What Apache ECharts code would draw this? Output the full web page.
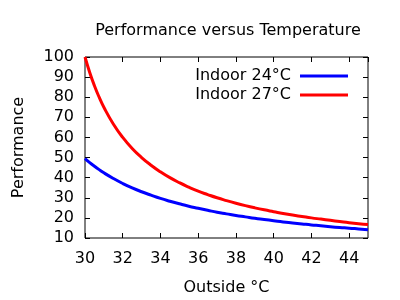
<!DOCTYPE html>
<html><head><meta charset="utf-8">
<script src="https://cdn.jsdelivr.net/npm/echarts@6/dist/echarts.min.js"></script>
<style>html,body{margin:0;padding:0;background:#fff}#c{width:400px;height:300px}</style>
</head><body><div id="c"></div>
<script>
var outsideTemps = [30,30.25,30.5,30.75,31,31.5,32,32.5,33,33.5,34,34.5,35,35.5,36,36.5,37,37.5,38,38.5,39,39.5,40,40.5,41,41.5,42,42.5,43,43.5,44,44.5,45];
var indoor24 = [49.5,47.5,45.7,44.0,42.4,39.6,37.1,34.9,33.0,31.3,29.7,28.3,27.0,25.8,24.8,23.8,22.8,22.0,21.2,20.5,19.8,19.2,18.6,18.0,17.5,17.0,16.5,16.1,15.6,15.2,14.9,14.5,14.1];
var indoor27 = [100,92.3,85.7,80.0,75.0,66.7,60.0,54.5,50.0,46.2,42.9,40.0,37.5,35.3,33.3,31.6,30.0,28.6,27.3,26.1,25.0,24.0,23.1,22.2,21.4,20.7,20.0,19.4,18.8,18.2,17.6,17.1,16.7];
var seriesNames = ['Indoor 24°C','Indoor 27°C'];
var titleText = 'Performance versus Temperature';
var xName = 'Outside °C', yName = 'Performance';

function pairs(xs, ys){ return xs.map(function(x,i){ return [x, ys[i]]; }); }
var F = 'DejaVu Sans';
var chart = echarts.init(document.getElementById('c'), null, {renderer:'canvas'});
var tick = {show:true, inside:true, length:5, lineStyle:{color:'#000', width:1}};
chart.setOption({
  animation:false,
  backgroundColor:'#fff',
  title:{text:titleText, left:223, top:18, textAlign:'center', textStyle:{fontFamily:F, fontSize:16, fontWeight:'normal', color:'#000'}},
  grid:{left:85, right:32, top:57, bottom:62, show:true, borderColor:'#000', borderWidth:1, backgroundColor:'transparent', outerBoundsMode:'none', containLabel:false},
  legend:{orient:'vertical', right:47, top:63, align:'right', itemWidth:48, itemHeight:3, itemGap:3,
    textStyle:{fontFamily:F, fontSize:16, color:'#000', padding:[0,4,0,0]},
    data:[{name:seriesNames[0], icon:'rect'},{name:seriesNames[1], icon:'rect'}]},
  xAxis:[
    {type:'value', min:30, max:45, interval:2, position:'bottom', name:xName, nameLocation:'middle', nameGap:42,
     nameTextStyle:{fontFamily:F, fontSize:16, color:'#000'},
     axisLine:{show:false}, axisTick:tick, splitLine:{show:false},
     axisLabel:{showMaxLabel:false, fontFamily:F, fontSize:16, color:'#000', margin:13}},
    {type:'value', min:30, max:45, interval:2, position:'top', axisLine:{show:false}, axisTick:tick, splitLine:{show:false}, axisLabel:{show:false}}
  ],
  yAxis:[
    {type:'value', min:10, max:100, interval:10, position:'left', name:yName, nameLocation:'middle', nameGap:58,
     nameTextStyle:{fontFamily:F, fontSize:16, color:'#000'},
     axisLine:{show:false}, axisTick:tick, splitLine:{show:false},
     axisLabel:{fontFamily:F, fontSize:16, color:'#000', margin:11}},
    {type:'value', min:10, max:100, interval:10, position:'right', axisLine:{show:false}, axisTick:tick, splitLine:{show:false}, axisLabel:{show:false}}
  ],
  series:[
    {name:seriesNames[0], type:'line', data:pairs(outsideTemps, indoor24), smooth:true, symbol:'none', clip:true,
     lineStyle:{color:'#0000ff', width:3}, itemStyle:{color:'#0000ff'}},
    {name:seriesNames[1], type:'line', data:pairs(outsideTemps, indoor27), smooth:true, symbol:'none', clip:true,
     lineStyle:{color:'#ff0000', width:3}, itemStyle:{color:'#ff0000'}}
  ]
});
</script></body></html>
